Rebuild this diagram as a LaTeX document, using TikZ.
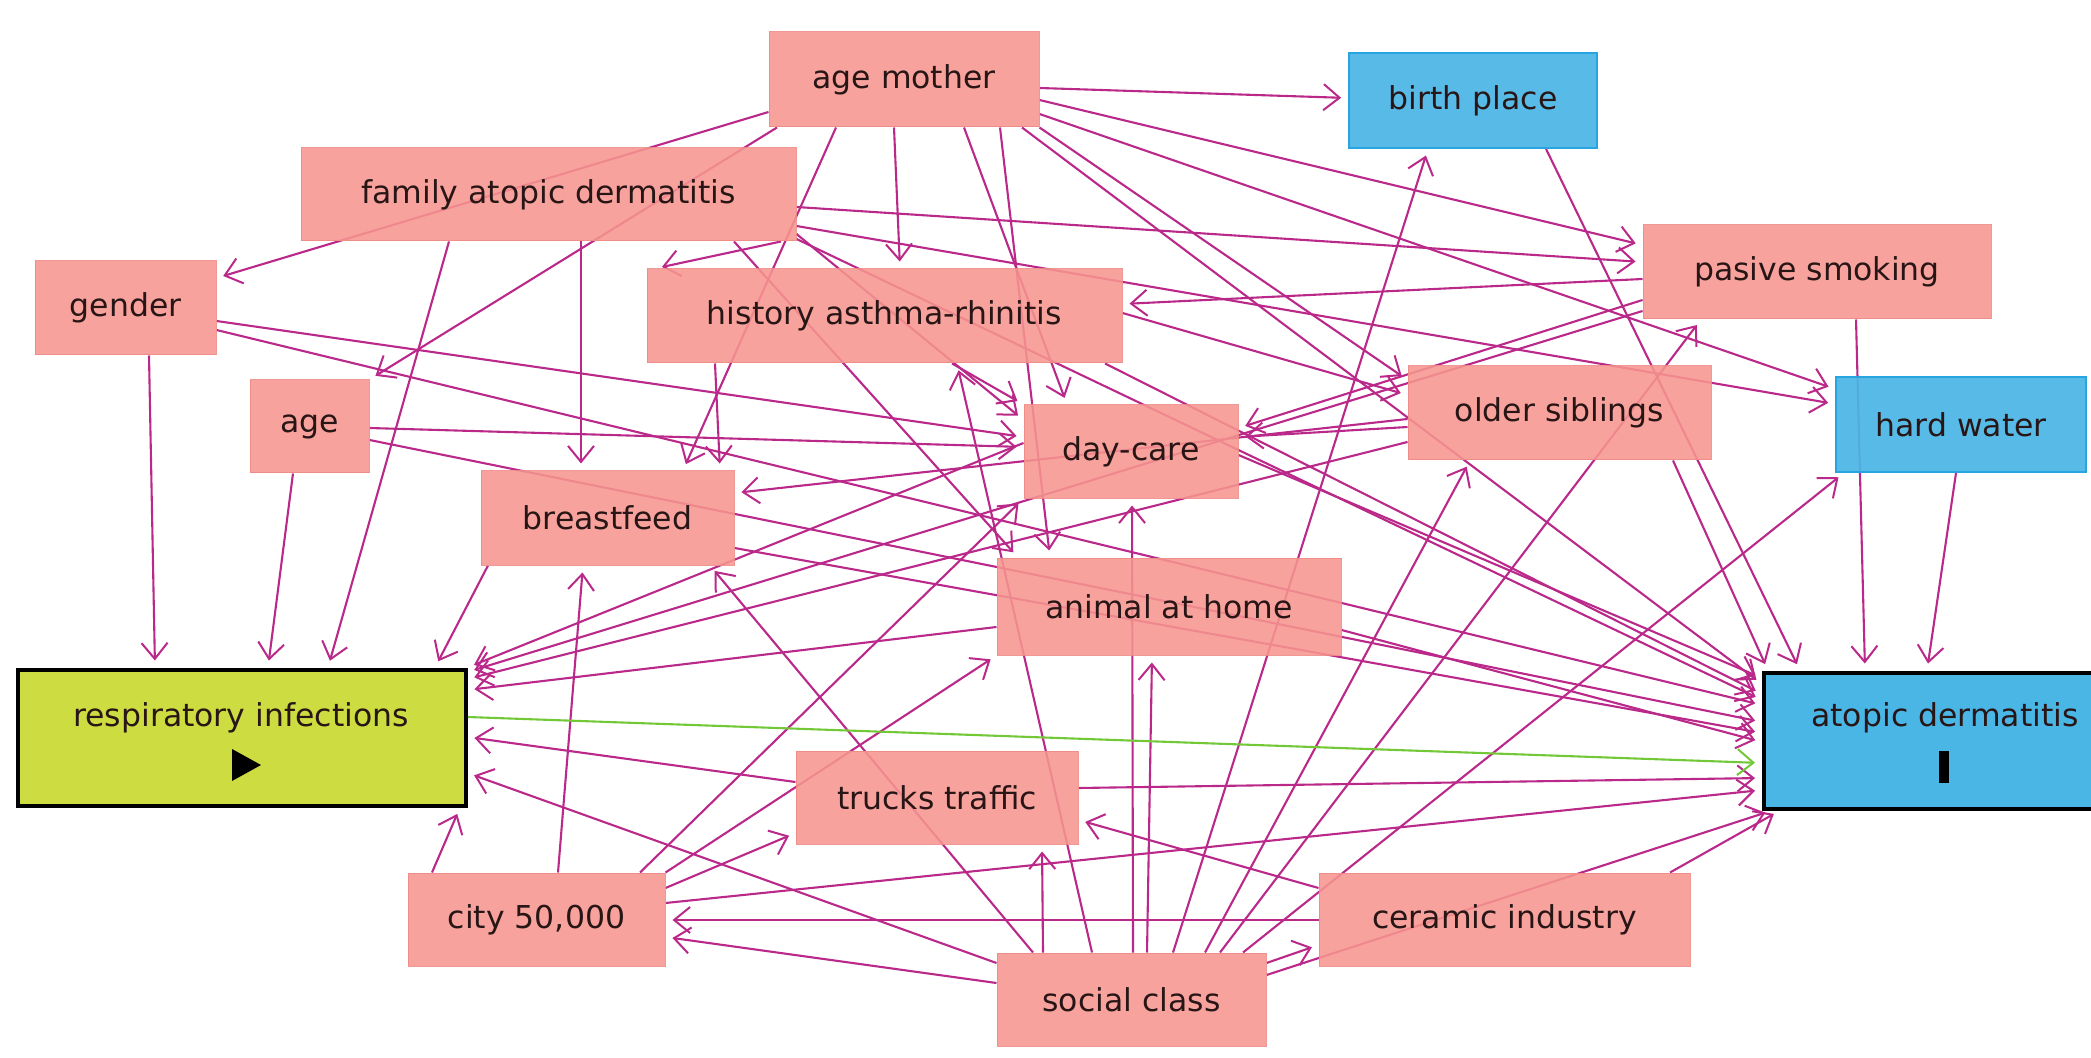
\documentclass[tikz,border=0pt]{standalone}
\usepackage{fontspec}
\setmainfont{DejaVu Sans}
\usetikzlibrary{arrows.meta,backgrounds}
\definecolor{pkf}{RGB}{247,150,143}
\definecolor{pkd}{RGB}{238,140,134}
\definecolor{blf}{RGB}{74,182,230}
\definecolor{bld}{RGB}{40,165,225}
\definecolor{rif}{RGB}{205,220,64}
\definecolor{cedge}{RGB}{186,40,138}
\definecolor{cgreen}{RGB}{115,200,55}
\definecolor{ctxt}{RGB}{40,22,22}
\newcommand\dagfont{\fontsize{15.75pt}{18pt}\selectfont}
\tikzset{
  box/.style={rectangle, inner sep=0pt, font=\dagfont, text=ctxt, text opacity=1},
  pk/.style={box, fill=pkf, draw=pkd, line width=0.5pt, fill opacity=0.88, draw opacity=0.88},
  bl/.style={box, fill=blf, draw=bld, line width=0.9pt, fill opacity=0.92},
  mainbox/.style={box, draw=black, line width=2pt},
  lbl/.style={inner sep=0pt, font=\dagfont, text=ctxt},
  edg/.style={draw=cedge, line width=1.05pt, shorten >=3.5pt,
    -{Straight Barb[length=8pt,width=13pt,line width=1pt]}},
  gedg/.style={edg, draw=cgreen},
}
\begin{document}
\begin{tikzpicture}[x=0.5pt,y=-0.5pt]
\useasboundingbox (0,0) rectangle (2091,1058);
\clip (0,0) rectangle (2091,1058);
% nodes
\node[pk, minimum width=135pt, minimum height=47.5pt] (am) at (904,79.5) {age mother};
\node[bl, minimum width=124pt, minimum height=47.5pt] (bp) at (1473,100.5) {birth place};
\node[pk, minimum width=247.5pt, minimum height=46.5pt] (fad) at (548.5,194.5) {family atopic dermatitis};
\node[pk, minimum width=174pt, minimum height=47pt] (ps) at (1817,272) {pasive smoking};
\node[pk, minimum width=90.5pt, minimum height=47pt] (g) at (125.5,308) {gender};
\node[pk, minimum width=237.5pt, minimum height=47pt] (har) at (884.5,316) {history asthma-rhinitis};
\node[pk, minimum width=59.5pt, minimum height=46.5pt] (a) at (309.5,426.5) {age};
\node[pk, minimum width=107pt, minimum height=46.5pt] (dc) at (1131,451.5) {day-care};
\node[pk, minimum width=151.5pt, minimum height=47pt] (os) at (1559.5,413) {older siblings};
\node[bl, minimum width=125pt, minimum height=47.5pt] (hw) at (1961,424.5) {hard water};
\node[pk, minimum width=126.5pt, minimum height=47pt] (bf) at (607.5,518) {breastfeed};
\node[pk, minimum width=172pt, minimum height=48.5pt] (ah) at (1169,606.5) {animal at home};
\node[mainbox, fill=rif, minimum width=224pt, minimum height=68pt] (ri) at (241.5,737.5) {};
\node[mainbox, fill=blf, minimum width=182pt, minimum height=68pt] (ad) at (1946,740.5) {};
\node[pk, minimum width=141pt, minimum height=46.5pt] (tt) at (937,797.5) {trucks traffic};
\node[pk, minimum width=128.5pt, minimum height=46.5pt] (c) at (536.5,919.5) {city 50,000};
\node[pk, minimum width=185.5pt, minimum height=46.5pt] (ci) at (1504.5,919.5) {ceramic industry};
\node[pk, minimum width=134.5pt, minimum height=46.5pt] (sc) at (1131.5,999.5) {social class};
\node[lbl] (ritext) at (241,718) {respiratory infections};
\node[lbl] (adtext) at (1945,718) {atopic dermatitis};
\fill[black] (232,749) -- (261,765) -- (232,781) -- cycle;
\fill[black] (1939,751) rectangle (1949,783);
% edges
\begin{scope}[on background layer]
\fill[white] (0,0) rectangle (2091,1058);
% age mother
\draw[edg] (am.east |- 0,88) -- (bp.west |- 0,98);
\draw[edg] (am.west |- 0,112) -- (g.east |- 0,278);
\draw[edg] (777,0 |- am.south) -- (a.north east);
\draw[edg] (836,0 |- am.south) -- (683,0 |- bf.north);
\draw[edg] (894,0 |- am.south) -- (900,0 |- har.north);
\draw[edg] (964,0 |- am.south) -- (1067,0 |- dc.north);
\draw[edg] (1000,0 |- am.south) -- (1050,0 |- ah.north);
\draw[edg] (am.east |- 0,100) -- (ps.west |- 0,245);
\draw[edg] (am.east |- 0,114) -- (hw.west |- 0,389);
\draw[edg] (am.south east) -- (os.west |- 0,380);
\draw[edg] (1022,0 |- am.south) -- (ad.west |- 0,684);
% family atopic dermatitis
\draw[edg] (449,0 |- fad.south) -- (328,0 |- ri.north);
\draw[edg] (581,0 |- fad.south) -- (581,0 |- bf.north);
\draw[edg] (fad.east |- 0,207) -- (ps.west |- 0,262);
\draw[edg] (fad.east |- 0,226) -- (hw.west |- 0,404);
\draw[edg] (fad.east |- 0,234) -- (dc.west |- 0,420);
\draw[edg] (734,0 |- fad.south) -- (1018,0 |- ah.north);
\draw[edg] (781,0 |- fad.south) -- (655,0 |- har.north);
\draw[edg] (fad.east |- 0,239) -- (ad.west |- 0,700);
% gender
\draw[edg] (149,0 |- g.south) -- (155,0 |- ri.north);
\draw[edg] (g.east |- 0,321) -- (dc.west |- 0,437);
\draw[edg] (g.east |- 0,330) -- (ad.west |- 0,705);
% age
\draw[edg] (293,0 |- a.south) -- (268,0 |- ri.north);
\draw[edg] (a.east |- 0,428) -- (dc.west |- 0,447);
\draw[edg] (a.east |- 0,440) -- (ad.west |- 0,722);
% history asthma-rhinitis
\draw[edg] (715,0 |- har.south) -- (720,0 |- bf.north);
\draw[edg] (952,0 |- har.south) -- (dc.north west);
\draw[edg] (har.east |- 0,313) -- (os.west |- 0,395);
\draw[edg] (1105,0 |- har.south) -- (ad.west |- 0,694);
% day-care
\draw[edg] (dc.west |- 0,443) -- (ri.north east);
\draw[edg] (dc.east |- 0,455) -- (ad.west |- 0,678);
% older siblings
\draw[edg] (os.west |- 0,427) -- (dc.east |- 0,437);
\draw[edg] (os.west |- 0,419) -- (bf.east |- 0,493);
\draw[edg] (os.west |- 0,442) -- (ri.east |- 0,679);
\draw[edg] (1673,0 |- os.south) -- (1768,0 |- ad.north);
% pasive smoking
\draw[edg] (ps.west |- 0,279) -- (har.east |- 0,304);
\draw[edg] (ps.west |- 0,300) -- (dc.east |- 0,428);
\draw[edg] (ps.west |- 0,311) -- (ri.east |- 0,672);
\draw[edg] (1856,0 |- ps.south) -- (1865,0 |- ad.north);
% hard water, birth place
\draw[edg] (1956,0 |- hw.south) -- (1927,0 |- ad.north);
\draw[edg] (1546,0 |- bp.south) -- (1800,0 |- ad.north);
% breastfeed
\draw[edg] (488,0 |- bf.south) -- (435,0 |- ri.north);
\draw[edg] (bf.east |- 0,548) -- (ad.west |- 0,733);
% animal at home
\draw[edg] (ah.west |- 0,627) -- (ri.east |- 0,690);
\draw[edg] (ah.east |- 0,630) -- (ad.west |- 0,742);
% trucks traffic
\draw[edg] (tt.west |- 0,782) -- (ri.east |- 0,737);
\draw[edg] (tt.east |- 0,788) -- (ad.west |- 0,778);
% city
\draw[edg] (432,0 |- c.north) -- (460,0 |- ri.south);
\draw[edg] (558,0 |- c.north) -- (583,0 |- bf.south);
\draw[edg] (640,0 |- c.north) -- (dc.south west);
\draw[edg] (c.north east) -- (ah.south west);
\draw[edg] (c.east |- 0,888) -- (tt.west |- 0,833);
\draw[edg] (c.east |- 0,903) -- (ad.west |- 0,790);
% ceramic industry
\draw[edg] (ci.west |- 0,920) -- (c.east |- 0,920);
\draw[edg] (ci.west |- 0,888) -- (tt.east |- 0,820);
\draw[edg] (1670,0 |- ci.north) -- (1780,0 |- ad.south);
% social class
\draw[edg] (sc.west |- 0,963) -- (ri.east |- 0,773);
\draw[edg] (sc.west |- 0,983) -- (c.east |- 0,937);
\draw[edg] (1033,0 |- sc.north) -- (710,0 |- bf.south);
\draw[edg] (1043,0 |- sc.north) -- (1042,0 |- tt.south);
\draw[edg] (1092,0 |- sc.north) -- (957,0 |- har.south);
\draw[edg] (1133,0 |- sc.north) -- (1132,0 |- dc.south);
\draw[edg] (1147,0 |- sc.north) -- (1152,0 |- ah.south);
\draw[edg] (1173,0 |- sc.north) -- (1428,0 |- bp.south);
\draw[edg] (1205,0 |- sc.north) -- (1470,0 |- os.south);
\draw[edg] (1220,0 |- sc.north) -- (1701,0 |- ps.south);
\draw[edg] (1243,0 |- sc.north) -- (1844,0 |- hw.south);
\draw[edg] (sc.east |- 0,963) -- (ci.west |- 0,945);
\draw[edg] (sc.east |- 0,975) -- (1772,0 |- ad.south);
% respiratory infections -> atopic dermatitis
\draw[gedg] (ri.east |- 0,717) -- (ad.west |- 0,763);
\end{scope}
\end{tikzpicture}
\end{document}
